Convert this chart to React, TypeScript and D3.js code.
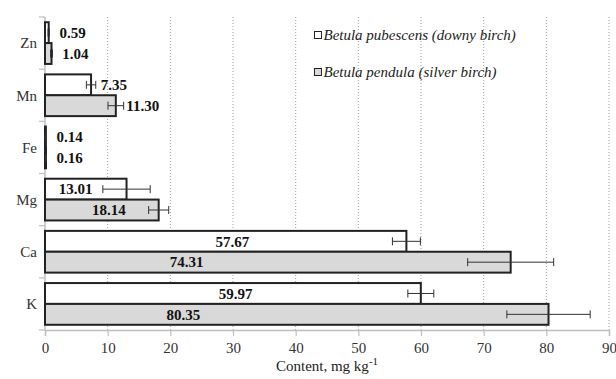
import React, { useRef, useEffect } from 'react';
import * as d3 from 'd3';

// Element content by species (mg kg-1), categories listed top to bottom
const categories = ['Zn', 'Mn', 'Fe', 'Mg', 'Ca', 'K'];
const pubescens = [0.59, 7.35, 0.14, 13.01, 57.67, 59.97];
const pendula = [1.04, 11.3, 0.16, 18.14, 74.31, 80.35];
const pubescensErr = [0.1, 0.75, 0.05, 3.78, 2.23, 2.07];
const pendulaErr = [0.15, 1.25, 0.05, 1.6, 6.86, 6.65];
// where each value label sits along the axis (data units)
const pubescensLabelAt = [4.4, 11.0, 3.94, 4.9, 29.9, 30.4];
const pendulaLabelAt = [4.85, 15.6, 3.94, 10.2, 22.6, 22.1];
const xTicks = [0, 10, 20, 30, 40, 50, 60, 70, 80, 90];

const seriesList = [
  { key: 'pub', name: 'Betula pubescens (downy birch)', values: pubescens, err: pubescensErr, labelAt: pubescensLabelAt, fill: '#ffffff' },
  { key: 'pen', name: 'Betula pendula (silver birch)', values: pendula, err: pendulaErr, labelAt: pendulaLabelAt, fill: '#d9d9d9' },
];

const FONT = '"Liberation Serif", "Times New Roman", serif';

const BarChart = () => {
  const svgRef = useRef(null);

  useEffect(() => {
    const width = 616;
    const height = 379;
    const margin = { top: 17, right: 7, bottom: 49, left: 45 };

    d3.select(svgRef.current).selectAll('*').remove();
    const svg = d3.select(svgRef.current)
      .attr('width', width)
      .attr('height', height)
      .style('font-family', FONT);

    const x = d3.scaleLinear()
      .domain([0, 90])
      .range([margin.left, width - margin.right]);

    const y = d3.scaleBand()
      .domain(categories)
      .range([margin.top, height - margin.bottom])
      .paddingInner(0.2)
      .paddingOuter(0.1);

    const ySub = d3.scaleBand()
      .domain(seriesList.map(s => s.key))
      .range([0, y.bandwidth()]);

    const yTop = margin.top;
    const yBottom = height - margin.bottom;

    // dotted vertical gridlines
    svg.append('g')
      .selectAll('line')
      .data(xTicks.filter(t => t > 0))
      .enter()
      .append('line')
      .attr('x1', d => x(d))
      .attr('x2', d => x(d))
      .attr('y1', yTop)
      .attr('y2', yBottom)
      .attr('stroke', '#a0a0a0')
      .attr('stroke-width', 1)
      .attr('stroke-dasharray', '1,2');

    // x axis
    const xAxis = svg.append('g')
      .attr('transform', `translate(0,${yBottom})`)
      .call(d3.axisBottom(x).tickValues(xTicks).tickSize(6).tickPadding(6).tickFormat(d3.format('d')));
    xAxis.select('.domain').attr('stroke', '#bfbfbf').attr('stroke-width', 1.5);
    xAxis.selectAll('.tick line').attr('stroke', '#bfbfbf').attr('stroke-width', 1.2);
    xAxis.selectAll('.tick text')
      .attr('font-family', FONT)
      .attr('font-size', 15)
      .attr('fill', '#333');

    // y axis line with ticks at category boundaries
    const boundaries = categories.map(c => y(c) - y.step() * y.paddingInner() / 2);
    boundaries.push(yBottom);
    svg.append('line')
      .attr('x1', x(0)).attr('x2', x(0))
      .attr('y1', yTop).attr('y2', yBottom)
      .attr('stroke', '#bfbfbf')
      .attr('stroke-width', 1.5);
    svg.append('g')
      .selectAll('line')
      .data(boundaries)
      .enter()
      .append('line')
      .attr('x1', x(0) - 6)
      .attr('x2', x(0))
      .attr('y1', d => d)
      .attr('y2', d => d)
      .attr('stroke', '#bfbfbf')
      .attr('stroke-width', 1.2);

    // category labels
    svg.append('g')
      .selectAll('text')
      .data(categories)
      .enter()
      .append('text')
      .attr('x', x(0) - 8)
      .attr('y', d => y(d) + y.bandwidth() / 2)
      .attr('dy', '0.35em')
      .attr('text-anchor', 'end')
      .attr('font-size', 15)
      .attr('fill', '#333')
      .text(d => d);

    // bars, error bars, labels
    seriesList.forEach(s => {
      const g = svg.append('g');
      const rows = categories.map((c, i) => ({ c, v: s.values[i], e: s.err[i], at: s.labelAt[i] }));

      g.selectAll('rect')
        .data(rows)
        .enter()
        .append('rect')
        .attr('x', x(0))
        .attr('y', d => y(d.c) + ySub(s.key))
        .attr('width', d => x(d.v) - x(0))
        .attr('height', ySub.bandwidth())
        .attr('fill', s.fill)
        .attr('stroke', '#222')
        .attr('stroke-width', 2);

      const eb = g.selectAll('.err')
        .data(rows)
        .enter()
        .append('g')
        .attr('class', 'err')
        .attr('transform', d => `translate(0,${y(d.c) + ySub(s.key) + ySub.bandwidth() / 2})`);
      eb.append('line')
        .attr('x1', d => x(d.v - d.e))
        .attr('x2', d => x(d.v + d.e))
        .attr('stroke', '#333')
        .attr('stroke-width', 1);
      eb.append('line')
        .attr('x1', d => x(d.v - d.e))
        .attr('x2', d => x(d.v - d.e))
        .attr('y1', -4).attr('y2', 4)
        .attr('stroke', '#333')
        .attr('stroke-width', 1);
      eb.append('line')
        .attr('x1', d => x(d.v + d.e))
        .attr('x2', d => x(d.v + d.e))
        .attr('y1', -4).attr('y2', 4)
        .attr('stroke', '#333')
        .attr('stroke-width', 1);

      g.selectAll('.lbl')
        .data(rows)
        .enter()
        .append('text')
        .attr('class', 'lbl')
        .attr('x', d => x(d.at))
        .attr('y', d => y(d.c) + ySub(s.key) + ySub.bandwidth() / 2)
        .attr('dy', '0.35em')
        .attr('text-anchor', 'middle')
        .attr('font-size', 15)
        .attr('font-weight', 'bold')
        .attr('fill', '#111')
        .text(d => d.v.toFixed(2));
    });

    // legend
    const legend = svg.append('g').attr('transform', `translate(${x(43)},0)`);
    seriesList.forEach((s, i) => {
      const item = legend.append('g').attr('transform', `translate(0,${35 + i * 37})`);
      item.append('rect')
        .attr('x', 0)
        .attr('y', -3.5)
        .attr('width', 7)
        .attr('height', 7)
        .attr('fill', s.fill)
        .attr('stroke', '#222')
        .attr('stroke-width', 1);
      item.append('text')
        .attr('x', 9)
        .attr('y', 0)
        .attr('dy', '0.32em')
        .attr('font-size', 15)
        .attr('font-style', 'italic')
        .attr('fill', '#222')
        .text(s.name);
    });

    // axis title
    const title = svg.append('text')
      .attr('x', (x(0) + x(90)) / 2)
      .attr('y', height - 8)
      .attr('text-anchor', 'middle')
      .attr('font-size', 15)
      .attr('fill', '#222');
    title.append('tspan').text('Content, mg kg');
    title.append('tspan').attr('dy', -6).attr('font-size', 11).text('-1');
  }, []);

  return <svg ref={svgRef}></svg>;
};

export default function App() {
  return (
    <div style={{ position: 'absolute', left: 0, top: 0, background: '#fff' }}>
      <BarChart />
    </div>
  );
}
